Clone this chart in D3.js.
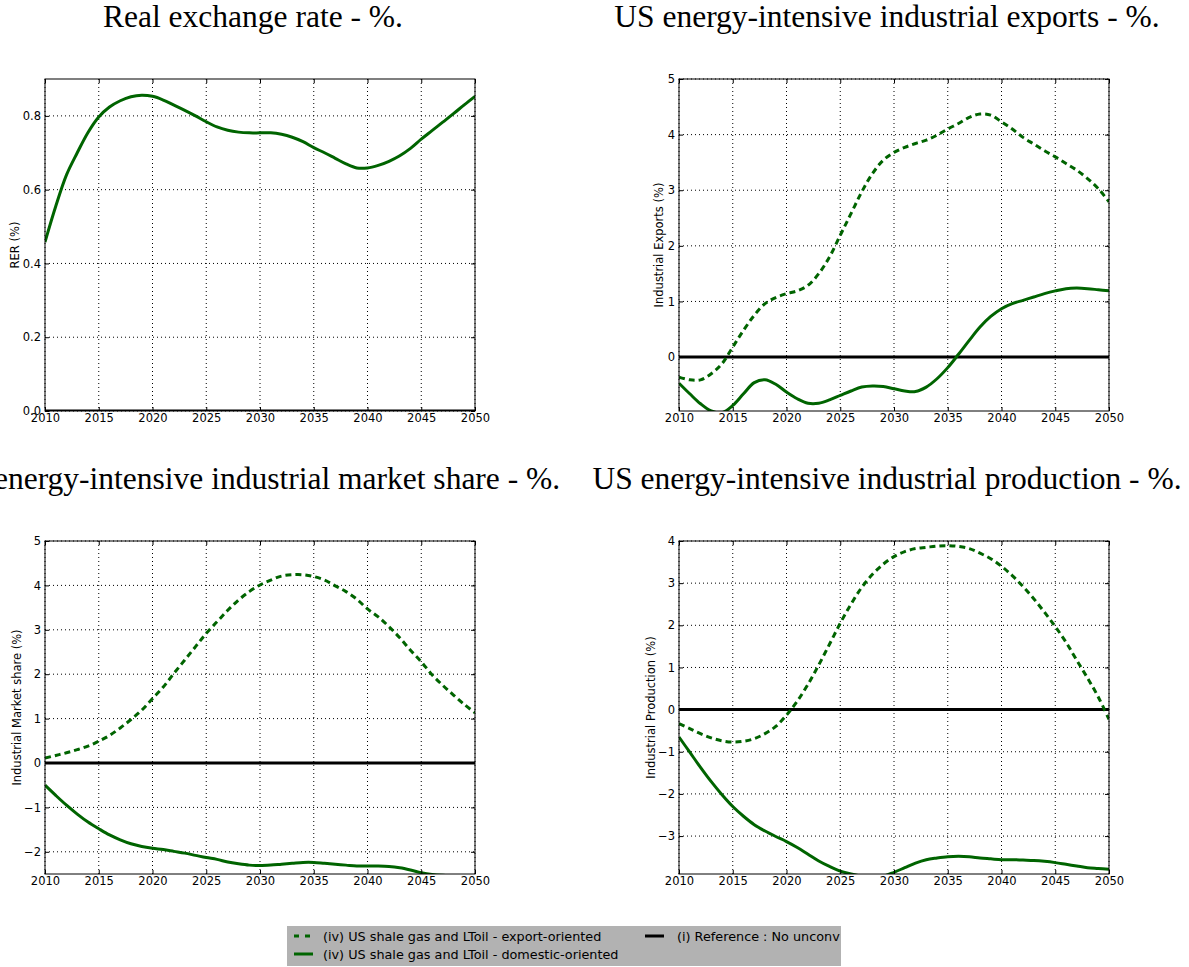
<!DOCTYPE html>
<html><head><meta charset="utf-8">
<script src="https://cdnjs.cloudflare.com/ajax/libs/d3/7.8.5/d3.min.js"></script>
<style>
body{margin:0;background:#fff;}
svg{display:block;}
</style></head>
<body>
<svg id="c" width="1189" height="967"></svg>
<script>
// ---------- DATA ----------
const years = d3.range(2010, 2051);
const xTicks = [2010, 2015, 2020, 2025, 2030, 2035, 2040, 2045, 2050];

const titles = [
  "Real exchange rate - %.",
  "US energy-intensive industrial exports - %.",
  "US energy-intensive industrial market share - %.",
  "US energy-intensive industrial production - %."
];
const yLabels = ["RER (%)", "Industrial Exports (%)", "Industrial Market share (%)", "Industrial Production (%)"];

const rerDomestic = [0.458,0.555,0.640,0.700,0.755,0.797,0.824,0.841,0.852,0.856,0.853,0.843,0.829,0.815,0.800,0.784,0.770,0.761,0.756,0.754,0.754,0.754,0.750,0.742,0.730,0.714,0.700,0.685,0.670,0.659,0.659,0.666,0.677,0.692,0.712,0.737,0.760,0.783,0.806,0.830,0.853];

const expExport = [-0.36,-0.41,-0.41,-0.30,-0.12,0.18,0.48,0.75,0.96,1.07,1.14,1.19,1.29,1.50,1.80,2.19,2.58,2.97,3.30,3.54,3.68,3.77,3.84,3.90,3.99,4.10,4.20,4.31,4.37,4.35,4.23,4.10,3.95,3.83,3.71,3.60,3.48,3.36,3.21,3.03,2.79];
const expDomestic = [-0.47,-0.66,-0.84,-0.97,-1.00,-0.87,-0.66,-0.46,-0.41,-0.49,-0.63,-0.75,-0.83,-0.83,-0.77,-0.69,-0.61,-0.54,-0.52,-0.53,-0.57,-0.61,-0.62,-0.54,-0.39,-0.19,0.05,0.30,0.54,0.73,0.87,0.96,1.02,1.08,1.14,1.19,1.23,1.24,1.23,1.21,1.19];

const shareExport = [0.11,0.17,0.23,0.30,0.38,0.49,0.62,0.79,0.98,1.19,1.45,1.71,2.02,2.32,2.62,2.92,3.18,3.44,3.67,3.86,4.01,4.12,4.21,4.24,4.24,4.20,4.12,3.99,3.86,3.69,3.47,3.29,3.07,2.82,2.54,2.28,1.99,1.75,1.53,1.32,1.13];
const shareDomestic = [-0.50,-0.73,-0.95,-1.15,-1.33,-1.48,-1.62,-1.73,-1.82,-1.88,-1.92,-1.95,-1.99,-2.03,-2.08,-2.13,-2.17,-2.23,-2.27,-2.30,-2.31,-2.30,-2.28,-2.26,-2.24,-2.24,-2.26,-2.28,-2.30,-2.32,-2.32,-2.32,-2.33,-2.36,-2.41,-2.47,-2.51,-2.53,-2.54,-2.54,-2.55];

const prodExport = [-0.33,-0.45,-0.57,-0.67,-0.74,-0.77,-0.75,-0.69,-0.57,-0.40,-0.13,0.20,0.60,1.06,1.55,2.05,2.50,2.90,3.21,3.45,3.63,3.75,3.82,3.85,3.88,3.89,3.87,3.82,3.71,3.58,3.40,3.18,2.92,2.63,2.31,1.97,1.60,1.17,0.75,0.30,-0.23];
const prodDomestic = [-0.65,-1.01,-1.37,-1.71,-2.02,-2.30,-2.53,-2.73,-2.88,-3.01,-3.13,-3.27,-3.43,-3.59,-3.72,-3.83,-3.90,-3.95,-3.97,-3.95,-3.86,-3.75,-3.64,-3.56,-3.52,-3.49,-3.48,-3.49,-3.52,-3.54,-3.56,-3.56,-3.57,-3.58,-3.60,-3.63,-3.67,-3.71,-3.75,-3.77,-3.79];

const reference = years.map(() => 0);

const yDomains = [[0, 0.9], [-0.97, 5], [-2.5, 5], [-3.9, 4]];
const yTickSets = [[0, 0.2, 0.4, 0.6, 0.8], [0, 1, 2, 3, 4, 5], [-2, -1, 0, 1, 2, 3, 4, 5], [-3, -2, -1, 0, 1, 2, 3, 4]];
const yTickFormats = [".1f", "d", "d", "d"];

const legendLabels = [
  "(iv) US shale gas and LToil - export-oriented",
  "(iv) US shale gas and LToil - domestic-oriented",
  "(i) Reference : No unconv"
];

// ---------- LAYOUT / STYLE ----------
const GREEN = "#006400";
const panels = [
  {x0: 45,  x1: 475,  y0: 79,  y1: 411, titleY: 27,  labelX: 15,  series: [{v: rerDomestic, dash: null}], ref: true},
  {x0: 679, x1: 1109, y0: 79,  y1: 411, titleY: 27,  labelX: 659, series: [{v: expExport, dash: "6,4"}, {v: expDomestic, dash: null}], ref: true},
  {x0: 45,  x1: 475,  y0: 541, y1: 874, titleY: 489, labelX: 17,  series: [{v: shareExport, dash: "6,4"}, {v: shareDomestic, dash: null}], ref: true},
  {x0: 679, x1: 1109, y0: 541, y1: 874, titleY: 489, labelX: 651, series: [{v: prodExport, dash: "6,4"}, {v: prodDomestic, dash: null}], ref: true}
];

const svg = d3.select("#c");
const defs = svg.append("defs");
const sans = "DejaVu Sans, sans-serif";
const serif = "Liberation Serif, DejaVu Serif, serif";

panels.forEach((p, i) => {
  const x = d3.scaleLinear().domain([2010, 2050]).range([p.x0, p.x1]);
  const y = d3.scaleLinear().domain(yDomains[i]).range([p.y1, p.y0]);
  const g = svg.append("g");

  // title
  g.append("text").attr("x", (p.x0 + p.x1) / 2 - 7).attr("y", p.titleY)
    .attr("text-anchor", "middle").attr("font-family", serif).attr("font-size", 31.5)
    .attr("fill", "#000").text(titles[i]);

  // grid
  const grid = g.append("g").attr("stroke", "#000").attr("stroke-width", 1).attr("stroke-dasharray", "1,3");
  xTicks.forEach(t => {
    grid.append("line").attr("x1", x(t)).attr("x2", x(t)).attr("y1", p.y0).attr("y2", p.y1);
  });
  yTickSets[i].forEach(t => {
    grid.append("line").attr("x1", p.x0).attr("x2", p.x1).attr("y1", y(t)).attr("y2", y(t));
  });

  // clip
  const cid = "clip" + i;
  defs.append("clipPath").attr("id", cid).append("rect")
    .attr("x", p.x0).attr("y", p.y0).attr("width", p.x1 - p.x0).attr("height", p.y1 - p.y0);
  const plot = g.append("g").attr("clip-path", `url(#${cid})`);

  const line = d3.line().x((d, k) => x(years[k])).y(d => y(d)).curve(d3.curveCatmullRom.alpha(0.5));

  if (p.ref) {
    plot.append("path").datum(reference).attr("d", line).attr("fill", "none")
      .attr("stroke", "#000").attr("stroke-width", 3);
  }
  p.series.forEach(s => {
    plot.append("path").datum(s.v).attr("d", line).attr("fill", "none")
      .attr("stroke", GREEN).attr("stroke-width", 3)
      .attr("stroke-dasharray", s.dash);
  });

  // axes with inward ticks on all four sides
  const fmtY = d3.format(yTickFormats[i]);
  const axB = d3.axisBottom(x).tickValues(xTicks).tickSize(-4).tickPadding(3).tickFormat(d3.format("d"));
  const axT = d3.axisTop(x).tickValues(xTicks).tickSize(-4).tickFormat("");
  const axL = d3.axisLeft(y).tickValues(yTickSets[i]).tickSize(-4).tickPadding(4).tickFormat(fmtY);
  const axR = d3.axisRight(y).tickValues(yTickSets[i]).tickSize(-4).tickFormat("");
  const styleAx = sel => {
    sel.select(".domain").remove();
    sel.selectAll(".tick line").attr("stroke", "#000");
    sel.selectAll("text").attr("font-family", sans).attr("font-size", 11.5).attr("fill", "#000");
  };
  g.append("g").attr("transform", `translate(0,${p.y1})`).call(axB).call(styleAx);
  g.append("g").attr("transform", `translate(0,${p.y0})`).call(axT).call(styleAx);
  g.append("g").attr("transform", `translate(${p.x0},0)`).call(axL).call(styleAx);
  g.append("g").attr("transform", `translate(${p.x1},0)`).call(axR).call(styleAx);

  // frame
  g.append("rect").attr("x", p.x0).attr("y", p.y0).attr("width", p.x1 - p.x0).attr("height", p.y1 - p.y0)
    .attr("fill", "none").attr("stroke", "#000").attr("stroke-width", 1);

  // y label
  g.append("text").attr("transform", `translate(${p.labelX},${(p.y0 + p.y1) / 2}) rotate(-90)`)
    .attr("text-anchor", "middle").attr("dominant-baseline", "central")
    .attr("font-family", sans).attr("font-size", 11.5).attr("fill", "#000").text(yLabels[i]);
});

// ---------- LEGEND ----------
const lg = svg.append("g");
lg.append("rect").attr("x", 287).attr("y", 926).attr("width", 554).attr("height", 40).attr("fill", "#b2b2b2");
const items = [
  {lx: 294, tx: 323, y: 936, color: GREEN, dash: "5,6", label: legendLabels[0]},
  {lx: 294, tx: 323, y: 954, color: GREEN, dash: null, label: legendLabels[1]},
  {lx: 645, tx: 677, y: 936, color: "#000", dash: null, label: legendLabels[2]}
];
items.forEach(it => {
  lg.append("line").attr("x1", it.lx).attr("x2", it.lx + 19).attr("y1", it.y).attr("y2", it.y)
    .attr("stroke", it.color).attr("stroke-width", 3).attr("stroke-dasharray", it.dash);
  lg.append("text").attr("x", it.tx).attr("y", it.y).attr("dominant-baseline", "central")
    .attr("font-family", sans).attr("font-size", 12.8).attr("fill", "#000").text(it.label);
});
</script>
</body></html>
